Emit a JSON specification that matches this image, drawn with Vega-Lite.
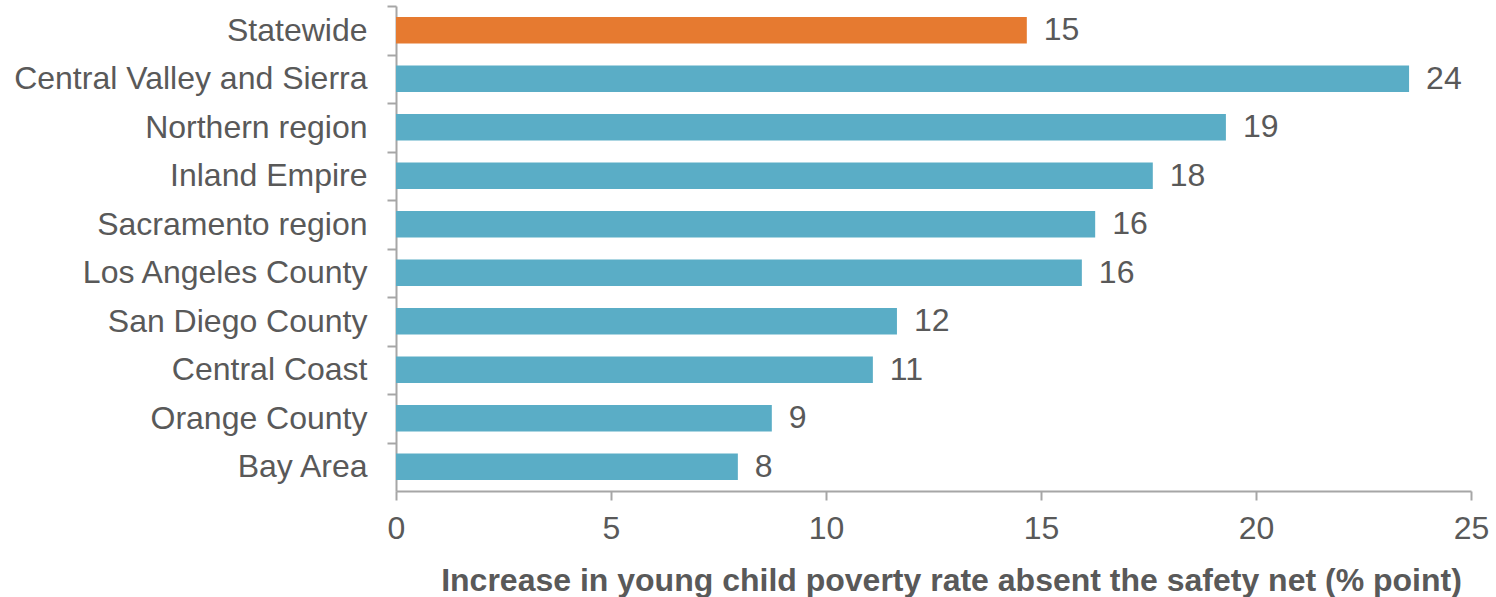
{
  "$schema": "https://vega.github.io/schema/vega-lite/v6.json",
  "autosize": "none",
  "width": 1075,
  "height": 485,
  "padding": {"left": 396, "top": 6, "right": 25, "bottom": 106},
  "background": "white",
  "config": {
    "view": {"stroke": null},
    "font": "Liberation Sans"
  },
  "data": {
    "values": [
      {"region": "Statewide", "increase": 14.67, "group": "state"},
      {"region": "Central Valley and Sierra", "increase": 23.56, "group": "region"},
      {"region": "Northern region", "increase": 19.3, "group": "region"},
      {"region": "Inland Empire", "increase": 17.6, "group": "region"},
      {"region": "Sacramento region", "increase": 16.26, "group": "region"},
      {"region": "Los Angeles County", "increase": 15.95, "group": "region"},
      {"region": "San Diego County", "increase": 11.65, "group": "region"},
      {"region": "Central Coast", "increase": 11.09, "group": "region"},
      {"region": "Orange County", "increase": 8.74, "group": "region"},
      {"region": "Bay Area", "increase": 7.95, "group": "region"}
    ]
  },
  "encoding": {
    "y": {
      "field": "region",
      "type": "nominal",
      "sort": null,
      "scale": {"paddingInner": 0.45, "paddingOuter": 0.225},
      "axis": {
        "title": null,
        "labelFontSize": 32,
        "labelColor": "#595959",
        "labelPadding": 20,
        "tickOffset": -24.25,
        "labelOffset": 24.25,
        "tickSize": 9,
        "tickColor": "#A6A6A6",
        "tickWidth": 2,
        "domainColor": "#A6A6A6",
        "domainWidth": 2,
        "labelLimit": 500
      }
    },
    "x": {
      "field": "increase",
      "type": "quantitative",
      "scale": {"domain": [0, 25]},
      "axis": {
        "values": [0, 5, 10, 15, 20, 25],
        "grid": false,
        "labelFlush": false,
        "labelFontSize": 32,
        "labelColor": "#595959",
        "labelPadding": 13,
        "tickSize": 9,
        "tickColor": "#A6A6A6",
        "tickWidth": 2,
        "domainColor": "#A6A6A6",
        "domainWidth": 2,
        "title": "Increase in young child poverty rate absent the safety net (% point)",
        "titleFontSize": 32,
        "titleFontWeight": "bold",
        "titleColor": "#595959",
        "titleBaseline": "alphabetic",
        "titleAlign": "center",
        "titleAnchor": null,
        "titleX": 555,
        "titleY": 99
      }
    }
  },
  "layer": [
    {
      "mark": {"type": "bar"},
      "encoding": {
        "color": {
          "field": "group",
          "type": "nominal",
          "scale": {"domain": ["state", "region"], "range": ["#E67A30", "#5AADC6"]},
          "legend": null
        }
      }
    },
    {
      "mark": {"type": "text", "align": "left", "baseline": "middle", "dx": 17, "fontSize": 32, "color": "#595959"},
      "encoding": {
        "text": {"field": "increase", "type": "quantitative", "format": ".0f"}
      }
    }
  ]
}
